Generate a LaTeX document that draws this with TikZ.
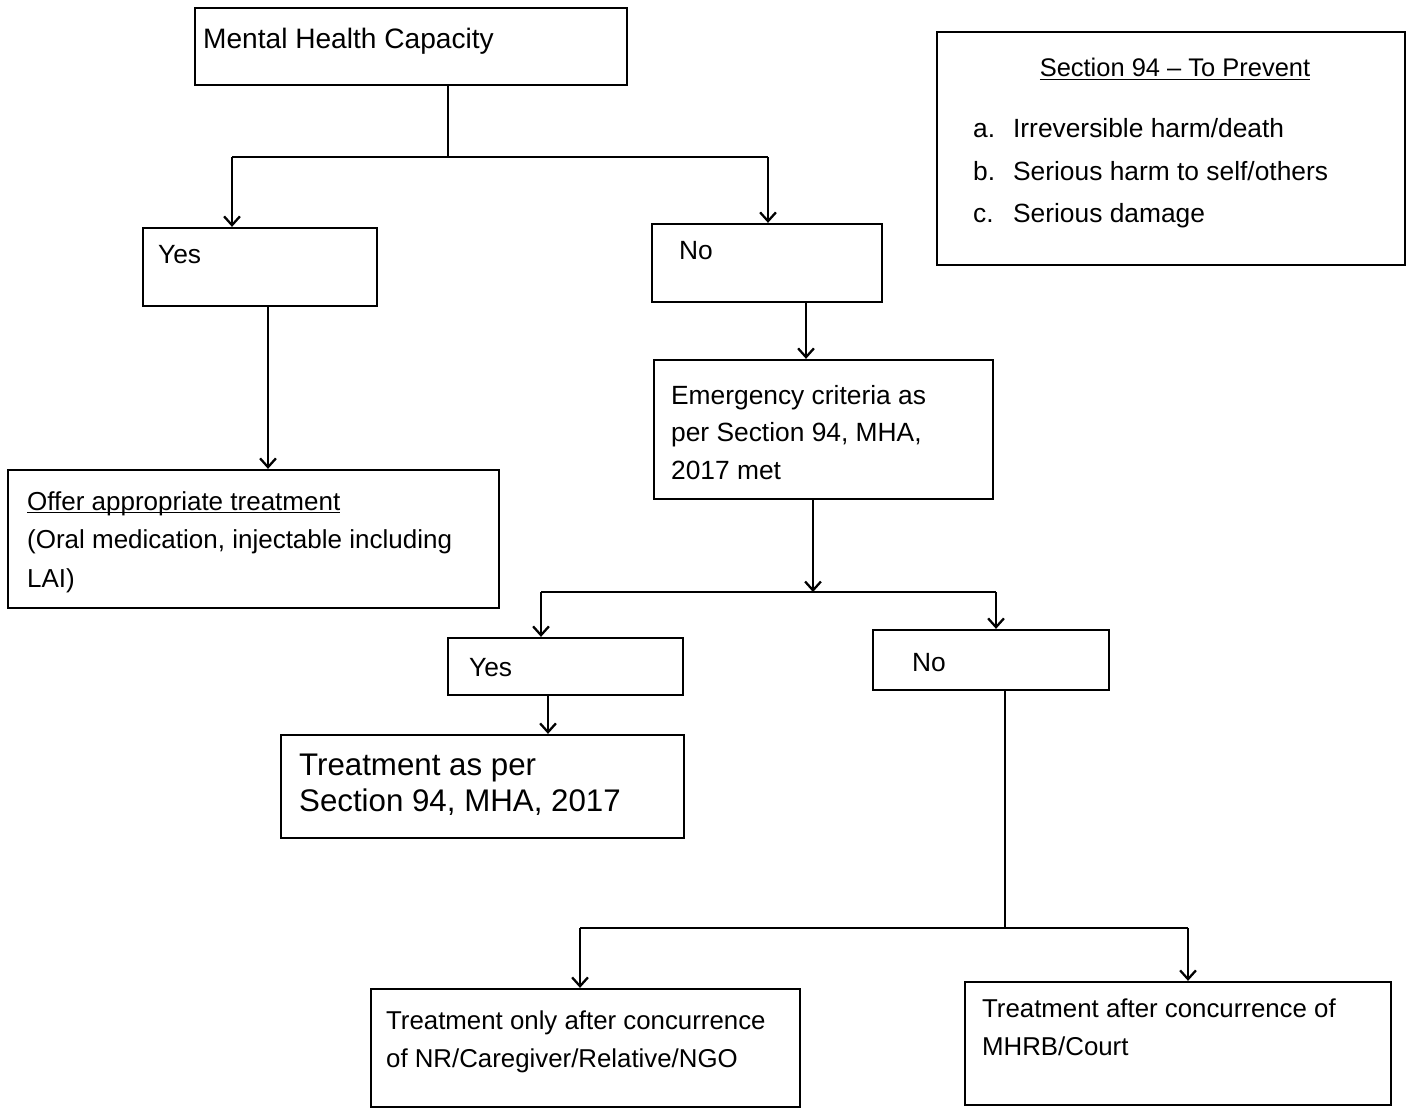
\documentclass[tikz,border=0pt]{standalone}
\usepackage{fontspec}
\setmainfont{Liberation Sans}
\usetikzlibrary{fit,arrows.meta}

\tikzset{
  box/.style={draw, rectangle, inner sep=0pt, line width=1.3pt},
  txt/.style={inner sep=0pt, anchor=north west, align=left},
  arr/.style={-{Straight Barb[length=5pt,width=9pt]}},
  link/.style={line width=1.3pt}
}

\begin{document}
\begin{tikzpicture}[x=0.02cm, y=-0.02cm, link]
        \useasboundingbox (0,0) rectangle (1409,1110);

        % Boxes
        \node[box, fit={(195,8) (627,85)}] (mhc) {};
        \node[box, fit={(937,32) (1405,265)}] (sec) {};
        \node[box, fit={(143,228) (377,306)}] (yesA) {};
        \node[box, fit={(652,224) (882,302)}] (noA) {};
        \node[box, fit={(654,360) (993,499)}] (emerg) {};
        \node[box, fit={(8,470) (499,608)}] (offer) {};
        \node[box, fit={(448,638) (683,695)}] (yesB) {};
        \node[box, fit={(873,630) (1109,690)}] (noB) {};
        \node[box, fit={(281,735) (684,838)}] (treat) {};
        \node[box, fit={(371,989) (800,1107)}] (nrbox) {};
        \node[box, fit={(965,982) (1391,1105)}] (mhrb) {};

        % Box texts
        \node[txt, font=\fontsize{16}{20}\selectfont] (mhc-t) at (202,27) {Mental Health Capacity};
        \node[inner sep=0pt, anchor=north, font=\fontsize{14.5}{20}\selectfont] (sec-t) at (1175,57) {\underline{Section 94 -- To Prevent}};
        \node[txt, font=\fontsize{15}{24.4}\selectfont] (sec-l) at (972,117)
            {\makebox[0.8cm][l]{a.}Irreversible harm/death\\
             \makebox[0.8cm][l]{b.}Serious harm to self/others\\
             \makebox[0.8cm][l]{c.}Serious damage};
        \node[txt, font=\fontsize{15}{20}\selectfont] (yesA-t) at (157,244) {Yes};
        \node[txt, font=\fontsize{15}{20}\selectfont] (noA-t) at (678,240) {No};
        \node[txt, font=\fontsize{15}{21.3}\selectfont] (emerg-t) at (670,384)
            {Emergency criteria as\\ per Section 94, MHA,\\ 2017 met};
        \node[txt, font=\fontsize{14.8}{22}\selectfont] (offer-t) at (26,491)
            {\underline{\smash{Offer appropriate treatment}}\vphantom{Op}\\
             (Oral medication, injectable including\\ LAI)};
        \node[txt, font=\fontsize{15}{20}\selectfont] (yesB-t) at (468,657) {Yes};
        \node[txt, font=\fontsize{15}{20}\selectfont] (noB-t) at (911,652) {No};
        \node[txt, font=\fontsize{17.8}{20.4}\selectfont] (treat-t) at (298,753)
            {Treatment as per\\ Section 94, MHA, 2017};
        \node[txt, font=\fontsize{14.7}{21.6}\selectfont] (nrbox-t) at (385,1010)
            {Treatment only after concurrence\\ of NR/Caregiver/Relative/NGO};
        \node[txt, font=\fontsize{14.7}{21.6}\selectfont] (mhrb-t) at (981,998)
            {Treatment after concurrence of\\ MHRB/Court};

        % Capacity split
        \coordinate (capj) at (448,157);
        \coordinate (capl) at (232,157);
        \coordinate (capr) at (768,157);
        \draw (capj |- mhc.south) -- (capj);
        \draw (capl) -- (capr);
        \draw[arr] (capl) -- (capl |- yesA.north);
        \draw[arr] (capr) -- (capr |- noA.north);

        % Down the branches
        \draw[arr] (268,0 |- yesA.south) -- (268,0 |- offer.north);
        \draw[arr] (806,0 |- noA.south) -- (806,0 |- emerg.north);

        % Emergency split
        \coordinate (emj) at (813,592);
        \coordinate (eml) at (541,592);
        \coordinate (emr) at (996,592);
        \draw[arr] (emj |- emerg.south) -- (emj);
        \draw (eml) -- (emr);
        \draw[arr] (eml) -- (eml |- yesB.north);
        \draw[arr] (emr) -- (emr |- noB.north);
        \draw[arr] (548,0 |- yesB.south) -- (548,0 |- treat.north);

        % No emergency split
        \coordinate (noj) at (1005,928);
        \coordinate (nol) at (580,928);
        \coordinate (nor) at (1188,928);
        \draw (noj |- noB.south) -- (noj);
        \draw (nol) -- (nor);
        \draw[arr] (nol) -- (nol |- nrbox.north);
        \draw[arr] (nor) -- (nor |- mhrb.north);
\end{tikzpicture}
\end{document}
